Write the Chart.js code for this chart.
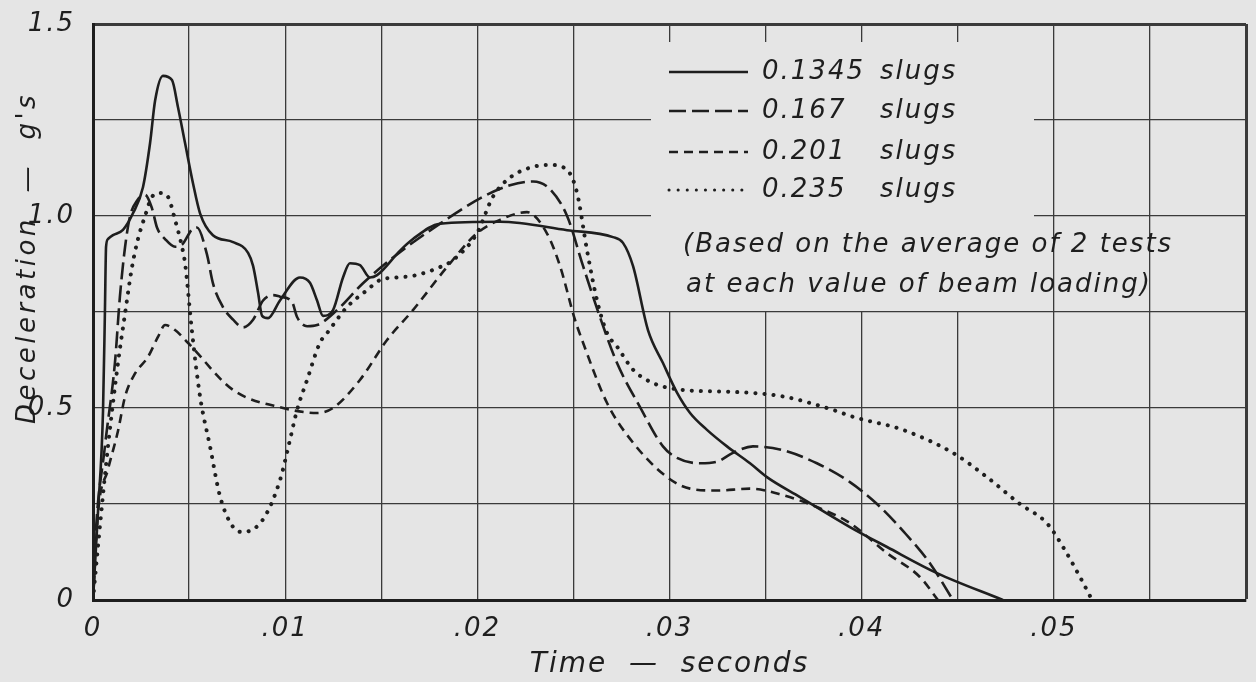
<!DOCTYPE html>
<html>
<head>
<meta charset="utf-8">
<title>Deceleration vs time</title>
<script src="https://cdn.jsdelivr.net/npm/chart.js@4.4.1/dist/chart.umd.min.js"></script>
<style>
  html, body { margin: 0; padding: 0; background: #e5e5e5; }
  #wrap { width: 1256px; height: 682px; position: relative; }
</style>
</head>
<body>
<div id="wrap"><canvas id="myChart"></canvas></div>
<script>
// beam loadings (slugs)
const loads = ["0.1345", "0.167", "0.201", "0.235"];

// time (s) and deceleration (g's)
const time1345 = [0, 0.00026, 0.00052, 0.00062, 0.00068, 0.00078, 0.00104, 0.00156, 0.00208, 0.0026,
  0.00297, 0.00323, 0.00364, 0.00411, 0.00442, 0.00479, 0.0052, 0.00557, 0.00624, 0.00729,
  0.00807, 0.00833, 0.00859, 0.0088, 0.00911, 0.00973, 0.01077, 0.01129, 0.01166, 0.01197,
  0.01249, 0.01301, 0.01337, 0.01389, 0.01441, 0.01478, 0.01598, 0.01665, 0.01806, 0.02118,
  0.02467, 0.02706, 0.02758, 0.0281, 0.02888, 0.02966, 0.03039, 0.03107, 0.03195, 0.03299,
  0.03419, 0.03507, 0.03679, 0.03939, 0.04132, 0.04392, 0.04735];
const decel1345 = [0, 0.23, 0.49, 0.75, 0.92, 0.94, 0.95, 0.964, 1.007, 1.075,
  1.19, 1.30, 1.365, 1.354, 1.284, 1.19, 1.086, 1.007, 0.95, 0.932,
  0.904, 0.87, 0.80, 0.74, 0.734, 0.78, 0.84, 0.826, 0.78, 0.74,
  0.755, 0.84, 0.877, 0.872, 0.84, 0.846, 0.91, 0.94, 0.98, 0.985,
  0.963, 0.945, 0.93, 0.87, 0.703, 0.617, 0.54, 0.487, 0.443, 0.40,
  0.356, 0.32, 0.268, 0.19, 0.138, 0.07, 0];

const time167 = [0, 0.0001, 0.00062, 0.00114, 0.0014, 0.00167, 0.00193, 0.00229, 0.00271, 0.00307,
  0.00333, 0.00375, 0.00427, 0.00463, 0.00515, 0.00541, 0.00593, 0.00624, 0.00676, 0.00729,
  0.00781, 0.00833, 0.00885, 0.00937, 0.00973, 0.01036, 0.01062, 0.01114, 0.01166, 0.0127,
  0.01405, 0.01582, 0.01806, 0.02029, 0.0217, 0.0229, 0.02378, 0.02467, 0.0255, 0.02638,
  0.02727, 0.02846, 0.02966, 0.03039, 0.03159, 0.03247, 0.0333, 0.03434, 0.03591, 0.03767,
  0.03939, 0.0408, 0.04215, 0.04355, 0.04475];
const decel167 = [0, 0.138, 0.40, 0.617, 0.79, 0.92, 1.0, 1.04, 1.055, 1.02,
  0.97, 0.94, 0.92, 0.925, 0.965, 0.97, 0.90, 0.825, 0.763, 0.73,
  0.71, 0.73, 0.78, 0.794, 0.79, 0.776, 0.737, 0.713, 0.716, 0.755,
  0.825, 0.90, 0.98, 1.05, 1.08, 1.09, 1.07, 1.0, 0.87, 0.737,
  0.617, 0.503, 0.40, 0.37, 0.356, 0.36, 0.383, 0.40, 0.39, 0.356,
  0.307, 0.25, 0.18, 0.096, 0];

const time201 = [0, 0.00026, 0.00078, 0.0013, 0.00167, 0.00219, 0.00286, 0.00338, 0.00375, 0.00427,
  0.00494, 0.00729, 0.00989, 0.01166, 0.01249, 0.01389, 0.0153, 0.01665, 0.01842, 0.01998,
  0.02118, 0.02258, 0.02362, 0.0243, 0.02508, 0.02545, 0.02675, 0.0281, 0.02987, 0.03107,
  0.03247, 0.03419, 0.03591, 0.03767, 0.03939, 0.04132, 0.04303, 0.04397];
const decel201 = [0, 0.227, 0.34, 0.44, 0.53, 0.59, 0.633, 0.685, 0.716, 0.703,
  0.67, 0.547, 0.50, 0.487, 0.50, 0.573, 0.677, 0.755, 0.867, 0.955,
  0.99, 1.01, 0.955, 0.87, 0.73, 0.677, 0.513, 0.41, 0.32, 0.29,
  0.285, 0.29, 0.273, 0.242, 0.20, 0.122, 0.06, 0];

const time235 = [0, 0.00026, 0.00078, 0.0013, 0.00167, 0.00203, 0.00234, 0.00271, 0.00307, 0.00349,
  0.0039, 0.00427, 0.00463, 0.00479, 0.00515, 0.00557, 0.00609, 0.00661, 0.00729, 0.00781,
  0.00885, 0.00973, 0.01025, 0.01062, 0.01114, 0.01181, 0.01218, 0.01322, 0.01426, 0.01493,
  0.01582, 0.01665, 0.01806, 0.01873, 0.01998, 0.02081, 0.0217, 0.0229, 0.02378, 0.02467,
  0.02519, 0.02571, 0.02623, 0.02675, 0.02727, 0.0281, 0.02914, 0.0307, 0.0333, 0.03591,
  0.03851, 0.03955, 0.04215, 0.04475, 0.04652, 0.04824, 0.04964, 0.05048, 0.05136, 0.05199];
const decel235 = [0, 0.14, 0.40, 0.617, 0.747, 0.867, 0.94, 1.0, 1.05, 1.06,
  1.05, 0.99, 0.92, 0.877, 0.70, 0.53, 0.40, 0.27, 0.19, 0.177,
  0.21, 0.312, 0.417, 0.495, 0.573, 0.67, 0.695, 0.763, 0.807, 0.833,
  0.84, 0.844, 0.867, 0.885, 0.955, 1.05, 1.10, 1.128, 1.133, 1.12,
  1.06, 0.91, 0.78, 0.695, 0.66, 0.60, 0.565, 0.547, 0.542, 0.53,
  0.495, 0.477, 0.443, 0.383, 0.32, 0.25, 0.20, 0.138, 0.06, 0];

// labelled ticks
const xTickValues = [0, 0.01, 0.02, 0.03, 0.04, 0.05];
const xTickLabels = ["0", ".01", ".02", ".03", ".04", ".05"];
const yTickValues = [0, 0.5, 1.0, 1.5];
const yTickLabels = ["0", "0.5", "1.0", "1.5"];

const paper = "#e5e5e5";
const ink = "#1e1e1e";
const gridInk = "#3a3a3a";
const fontFamily = "'DejaVu Sans', sans-serif";

function pairs(xs, ys) {
  return xs.map((x, i) => ({ x: x, y: ys[i] }));
}

function tickLabel(values, labels, v) {
  const i = values.findIndex((t) => Math.abs(t - v) < 1e-9);
  return i >= 0 ? labels[i] : "";
}

const lineStyles = [
  { borderWidth: 2.6, borderDash: [] },
  { borderWidth: 2.6, borderDash: [17, 6] },
  { borderWidth: 2.6, borderDash: [9, 6] },
  { borderWidth: 4, borderDash: [0.1, 9], borderCapStyle: "round" },
];

const series = [
  pairs(time1345, decel1345),
  pairs(time167, decel167),
  pairs(time201, decel201),
  pairs(time235, decel235),
];

const paperPlugin = {
  id: "paper",
  beforeDraw(chart) {
    chart.ctx.letterSpacing = "2px";
  },
  beforeDatasetsDraw(chart) {
    // the grid is left out behind the key
    const ctx = chart.ctx;
    ctx.save();
    ctx.fillStyle = paper;
    ctx.fillRect(651, 42, 383, 269);
    ctx.restore();
  },
  afterDraw(chart) {
    const ctx = chart.ctx;
    ctx.save();
    ctx.fillStyle = ink;
    ctx.textBaseline = "middle";
    ctx.font = "italic 26px " + fontFamily;
    ctx.letterSpacing = "2px";

    const rows = [72, 111, 152, 190];
    chart.data.datasets.forEach((ds, i) => {
      ctx.save();
      ctx.beginPath();
      ctx.setLineDash(ds.borderDash || []);
      ctx.lineWidth = Math.min(ds.borderWidth, 3);
      ctx.lineCap = ds.borderCapStyle || "butt";
      ctx.strokeStyle = ds.borderColor;
      ctx.moveTo(669, rows[i]);
      ctx.lineTo(748, rows[i]);
      ctx.stroke();
      ctx.restore();
      ctx.textAlign = "left";
      ctx.fillText(loads[i], 762, rows[i]);
      ctx.fillText("slugs", 880, rows[i]);
    });

    ctx.fillText("(Based on the average of 2 tests", 683, 245);
    ctx.fillText("at each value of beam loading)", 686, 285);

    // y axis title, sits a bit above the middle
    ctx.translate(28, 258);
    ctx.rotate(-Math.PI / 2);
    ctx.textAlign = "center";
    ctx.letterSpacing = "3.5px";
    ctx.fillText("Deceleration  —  g's", 0, 0);
    ctx.restore();
  },
};

function showChart() {
  Chart.defaults.font.family = fontFamily;
  Chart.defaults.color = ink;

  const datasets = series.map((pts, i) => ({
    label: loads[i] + " slugs",
    data: pts,
    borderColor: ink,
    borderWidth: lineStyles[i].borderWidth,
    borderDash: lineStyles[i].borderDash,
    borderCapStyle: lineStyles[i].borderCapStyle || "butt",
    pointRadius: 0,
    fill: false,
    cubicInterpolationMode: "monotone",
  }));

  const config = {
    type: "line",
    data: { datasets: datasets },
    plugins: [paperPlugin],
    options: {
      responsive: true,
      maintainAspectRatio: false,
      animation: false,
      layout: { padding: { top: 24, right: 10, left: 0, bottom: 0 } },
      plugins: {
        legend: { display: false },
        tooltip: { enabled: false },
      },
      scales: {
        x: {
          type: "linear",
          min: 0,
          max: 0.06,
          afterFit: (scale) => {
            scale.height = 82;
            scale.paddingLeft = 0;
            scale.paddingRight = 0;
          },
          ticks: {
            stepSize: 0.005,
            autoSkip: false,
            maxRotation: 0,
            padding: 14,
            font: { size: 26, style: "italic" },
            color: ink,
            callback: (v) => tickLabel(xTickValues, xTickLabels, v),
          },
          grid: {
            color: gridInk,
            drawTicks: false,
            lineWidth: (c) => (c.tick && Math.abs(c.tick.value - 0.06) < 1e-9 ? 3 : 1.3),
          },
          border: { color: ink, width: 3 },
          title: {
            display: true,
            text: "Time  —  seconds",
            font: { size: 28, style: "italic" },
            color: ink,
            padding: { top: 0, bottom: 0 },
          },
        },
        y: {
          min: 0,
          max: 1.5,
          afterFit: (scale) => {
            scale.width = 93;
            scale.paddingTop = 0;
            scale.paddingBottom = 0;
          },
          ticks: {
            stepSize: 0.25,
            autoSkip: false,
            padding: 18,
            font: { size: 26, style: "italic" },
            color: ink,
            callback: (v) => tickLabel(yTickValues, yTickLabels, v),
          },
          grid: {
            color: gridInk,
            drawTicks: false,
            lineWidth: (c) => (c.tick && Math.abs(c.tick.value - 1.5) < 1e-9 ? 3 : 1.3),
          },
          border: { color: ink, width: 3 },
        },
      },
    },
  };

  new Chart(document.getElementById("myChart"), config);
}
showChart();
</script>
</body>
</html>
